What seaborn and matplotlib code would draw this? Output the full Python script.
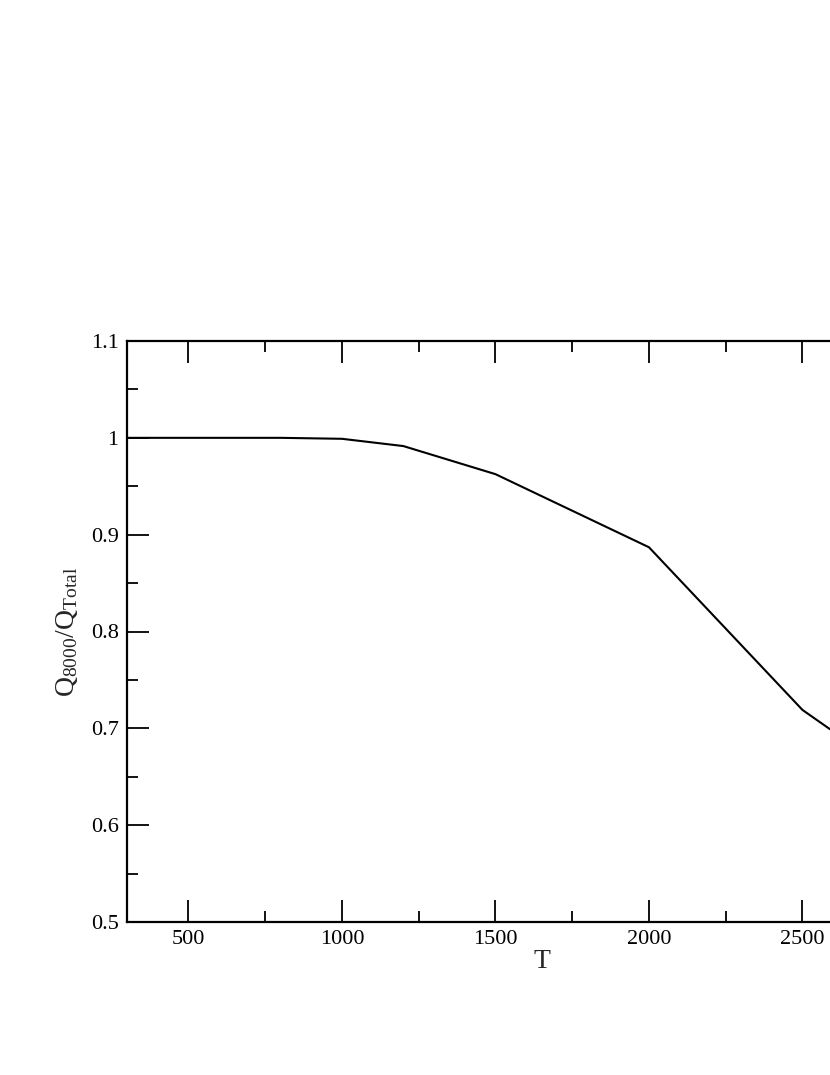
import matplotlib
matplotlib.use("Agg")
import matplotlib.pyplot as plt
import seaborn as sns
import pandas as pd
from matplotlib.ticker import MultipleLocator, FormatStrFormatter, FixedLocator

T = [300, 500, 800, 1000, 1200, 1500, 2000, 2500, 3000]
ratio = [1.0, 1.0, 1.0, 0.999, 0.9915, 0.9625, 0.887, 0.719, 0.608]
x_ticks = [500, 1000, 1500, 2000, 2500]
x_minor = [750, 1250, 1750, 2250, 2750]

sns.set_style("ticks")
plt.rcParams['font.family'] = ['Liberation Serif', 'DejaVu Serif']
plt.rcParams['mathtext.fontset'] = 'custom'
plt.rcParams['mathtext.rm'] = 'Liberation Serif'
plt.rcParams['mathtext.it'] = 'Liberation Serif:italic'

df = pd.DataFrame({"T": T, "ratio": ratio})

fig = plt.figure(figsize=(8.3, 10.75), dpi=100)
ax = fig.add_axes([127/830, 1 - 922/1075, 829/830, (922 - 341)/1075])
sns.lineplot(data=df, x="T", y="ratio", ax=ax, color="black", linewidth=1.5)

ax.set_xlim(300, 3000)
ax.set_ylim(0.5, 1.1)
ax.xaxis.set_major_locator(FixedLocator(x_ticks))
ax.xaxis.set_minor_locator(FixedLocator(x_minor))
ax.yaxis.set_major_locator(MultipleLocator(0.1))
ax.yaxis.set_minor_locator(MultipleLocator(0.05))
ax.yaxis.set_major_formatter(FormatStrFormatter('%g'))
ax.tick_params(which='both', direction='in', top=True, right=True,
               width=1.3, labelsize=16, colors='black')
ax.tick_params(which='major', length=16, pad=6)
ax.tick_params(which='minor', length=8)
for s in ax.spines.values():
    s.set_linewidth(1.6)
    s.set_color('black')

ax.set_xlabel("T", fontsize=20, labelpad=0)
ax.set_ylabel(r"$\mathrm{Q_{8000}/Q_{Total}}$", fontsize=20, labelpad=8)

fig.savefig("out.png", dpi=100)
